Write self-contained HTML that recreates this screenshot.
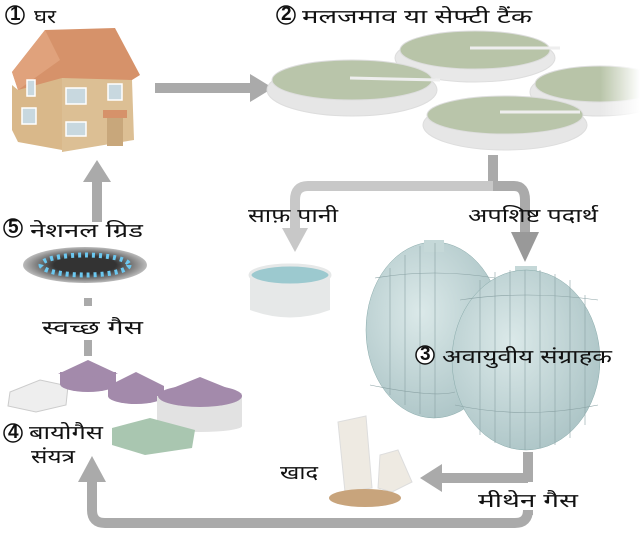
<!DOCTYPE html>
<html><head><meta charset="utf-8"><style>
html,body{margin:0;padding:0;background:#fff;width:640px;height:542px;overflow:hidden}
text{font-family:"Liberation Sans","DejaVu Sans",sans-serif;fill:#111;font-size:19px}
</style></head><body>
<svg width="640" height="542" viewBox="0 0 640 542" xmlns="http://www.w3.org/2000/svg">
<defs>
<radialGradient id="sph" cx="0.4" cy="0.4" r="0.7"><stop offset="0" stop-color="#dbe9e9"/><stop offset="1" stop-color="#a9c2c4"/></radialGradient>
<radialGradient id="burn" cx="0.5" cy="0.5" r="0.5"><stop offset="0.5" stop-color="#333"/><stop offset="1" stop-color="#bbb"/></radialGradient>
<linearGradient id="fade" x1="0" x2="1"><stop offset="0.5" stop-color="#fff" stop-opacity="0"/><stop offset="1" stop-color="#fff"/></linearGradient>
</defs>
<g fill="none" stroke="#aaaaaa" stroke-width="10">
<line x1="155" y1="88" x2="252" y2="88"/>
<line x1="97" y1="222" x2="97" y2="180"/>
<path d="M528 515 V510 Q528 523 515 523 H105 Q92 523 92 510 V478"/>
<line x1="528" y1="452" x2="528" y2="482"/>
<line x1="528" y1="478" x2="440" y2="478"/>
<path d="M493 155 V186 H514 Q525 186 525 200 V235"/>
<path d="M493 186 H308 Q295 186 295 200 V230" stroke="#c8c8c8"/>
</g>
<g fill="#aaaaaa">
<polygon points="250,74 273,88 250,102"/>
<polygon points="83,182 97,160 111,182"/>
<polygon points="78,482 92,456 106,482"/>
<polygon points="442,464 420,478 442,492"/>
<polygon points="511,232 539,232 525,262" fill="#999"/>
<polygon points="282,228 308,228 295,252" fill="#c8c8c8"/>
</g>
<line x1="88" y1="298" x2="88" y2="306" stroke="#aaa" stroke-width="8"/>
<line x1="88" y1="340" x2="88" y2="356" stroke="#aaa" stroke-width="8"/>
<!-- house -->
<polygon points="12,72 45,30 115,28 140,75 132,80 18,90" fill="#d6926a"/>
<polygon points="12,72 45,30 60,60 18,90" fill="#e0a27c"/>
<polygon points="12,85 18,90 62,78 62,150 18,142 12,130" fill="#d9b88a"/>
<polygon points="62,78 132,80 134,140 62,152" fill="#dcbf94"/>
<g fill="#c8d8df" stroke="#fff" stroke-width="1.5">
<rect x="66" y="88" width="20" height="16"/><rect x="108" y="84" width="14" height="16"/>
<rect x="66" y="122" width="20" height="14"/><rect x="27" y="80" width="8" height="16"/><rect x="22" y="108" width="14" height="16"/>
</g>
<rect x="103" y="110" width="24" height="8" fill="#d6926a"/>
<rect x="107" y="118" width="16" height="28" fill="#c8a77b"/>
<!-- tanks -->
<g stroke="#ddd" stroke-width="1">
<ellipse cx="475" cy="58" rx="80" ry="24" fill="#e8e8e8"/><ellipse cx="475" cy="50" rx="75" ry="19" fill="#b8c4a8"/>
<ellipse cx="600" cy="92" rx="70" ry="24" fill="#e8e8e8"/><ellipse cx="600" cy="84" rx="65" ry="18" fill="#b8c4a8"/>
<ellipse cx="352" cy="90" rx="85" ry="26" fill="#e6e6e6"/><ellipse cx="352" cy="80" rx="80" ry="20" fill="#b9c5aa"/>
<ellipse cx="505" cy="125" rx="82" ry="25" fill="#e6e6e6"/><ellipse cx="505" cy="115" rx="78" ry="19" fill="#b9c5aa"/>
</g>
<g stroke="#eee" stroke-width="3"><line x1="350" y1="78" x2="440" y2="80"/><line x1="470" y1="48" x2="560" y2="48"/><line x1="500" y1="112" x2="580" y2="112"/></g>
<rect x="560" y="60" width="80" height="60" fill="url(#fade)"/>
<!-- water tub -->
<path d="M250 275 V310 Q290 325 330 310 V275 Z" fill="#e6e8e8"/>
<ellipse cx="290" cy="275" rx="40" ry="10" fill="#9cc9cf" stroke="#e6e8e8" stroke-width="3"/>
<!-- spheres -->
<ellipse cx="434" cy="330" rx="68" ry="88" fill="url(#sph)" stroke="#8aa" stroke-width="0.5"/>
<rect x="515" y="266" width="22" height="14" fill="#c5d8d8"/>
<ellipse cx="526" cy="360" rx="74" ry="90" fill="url(#sph)" stroke="#8aa" stroke-width="0.5"/>
<rect x="424" y="240" width="20" height="12" fill="#c5d8d8"/>
<g stroke="#8aa2a4" stroke-width="0.6" fill="none">
<path d="M460 300 Q525 290 598 300"/><path d="M455 405 Q525 420 598 405"/>
<path d="M375 278 Q434 268 495 278"/><path d="M370 385 Q434 398 455 392"/>
<line x1="480" y1="280" x2="480" y2="435"/><line x1="495" y1="272" x2="495" y2="443"/><line x1="510" y1="270" x2="510" y2="448"/><line x1="525" y1="270" x2="525" y2="450"/><line x1="540" y1="270" x2="540" y2="448"/><line x1="555" y1="274" x2="555" y2="445"/><line x1="570" y1="280" x2="570" y2="438"/><line x1="585" y1="295" x2="585" y2="425"/>
<line x1="390" y1="268" x2="390" y2="395"/><line x1="405" y1="255" x2="405" y2="405"/><line x1="420" y1="246" x2="420" y2="414"/><line x1="435" y1="243" x2="435" y2="418"/>
</g>
<!-- burner -->
<ellipse cx="85" cy="265" rx="62" ry="18" fill="url(#burn)"/>
<ellipse cx="85" cy="265" rx="44" ry="10" fill="none" stroke="#6cc8f0" stroke-width="5" stroke-dasharray="3 4"/>
<!-- biogas plant -->
<polygon points="10,392 40,380 68,386 66,405 36,412 8,406" fill="#eee" stroke="#ccc"/>
<rect x="60" y="372" width="56" height="12" fill="#a38aab"/>
<ellipse cx="88" cy="384" rx="28" ry="8" fill="#a38aab"/><polygon points="58,374 88,360 118,374" fill="#a38aab"/>
<ellipse cx="136" cy="396" rx="28" ry="8" fill="#a38aab"/><rect x="108" y="386" width="56" height="10" fill="#a38aab"/><polygon points="108,386 136,372 164,386" fill="#a38aab"/>
<rect x="157" y="396" width="85" height="30" fill="#e2e2e2"/>
<ellipse cx="200" cy="426" rx="42" ry="6" fill="#e2e2e2"/>
<ellipse cx="200" cy="396" rx="42" ry="11" fill="#a38aab"/><polygon points="158,394 200,377 242,394" fill="#a38aab"/>
<polygon points="112,428 150,418 195,430 192,448 145,455 112,445" fill="#a9c6b0"/>
<!-- bags -->
<polygon points="338,422 366,416 372,488 345,492" fill="#eeeae2" stroke="#ddd"/>
<polygon points="380,455 398,450 412,482 392,492 378,488" fill="#eeeae2" stroke="#ddd"/>
<ellipse cx="365" cy="498" rx="36" ry="9" fill="#c8a47c"/>
<!-- labels -->
<g font-size="15" font-weight="bold">
<circle cx="15" cy="15" r="9" fill="#fff" stroke="#111" stroke-width="1.5"/><text x="10" y="20" font-size="13">1</text>
<circle cx="286" cy="15" r="9" fill="#fff" stroke="#111" stroke-width="1.5"/><text x="281" y="20" font-size="13">2</text>
<circle cx="425" cy="355" r="9" fill="#fff" stroke="#111" stroke-width="1.5"/><text x="420" y="360" font-size="13">3</text>
<circle cx="13" cy="433" r="9" fill="#fff" stroke="#111" stroke-width="1.5"/><text x="8" y="438" font-size="13">4</text>
<circle cx="13" cy="228" r="9" fill="#fff" stroke="#111" stroke-width="1.5"/><text x="8" y="233" font-size="13">5</text>
</g>
<text x="34" y="23" textLength="22" lengthAdjust="spacingAndGlyphs">घर</text>
<text x="302" y="23" textLength="230" lengthAdjust="spacingAndGlyphs">मलजमाव या सेफ्टी टैंक</text>
<text x="248" y="222" textLength="90" lengthAdjust="spacingAndGlyphs">साफ़ पानी</text>
<text x="468" y="222" textLength="130" lengthAdjust="spacingAndGlyphs">अपशिष्ट पदार्थ</text>
<text x="442" y="363" textLength="170" lengthAdjust="spacingAndGlyphs">अवायुवीय संग्राहक</text>
<text x="30" y="237" textLength="113" lengthAdjust="spacingAndGlyphs">नेशनल ग्रिड</text>
<text x="42" y="334" textLength="101" lengthAdjust="spacingAndGlyphs">स्वच्छ गैस</text>
<text x="29" y="439" textLength="74" lengthAdjust="spacingAndGlyphs">बायोगैस</text>
<text x="31" y="463" textLength="44" lengthAdjust="spacingAndGlyphs">संयत्र</text>
<text x="280" y="479" textLength="38" lengthAdjust="spacingAndGlyphs">खाद</text>
<text x="478" y="507" textLength="100" lengthAdjust="spacingAndGlyphs">मीथेन गैस</text>
</svg>
</body></html>
